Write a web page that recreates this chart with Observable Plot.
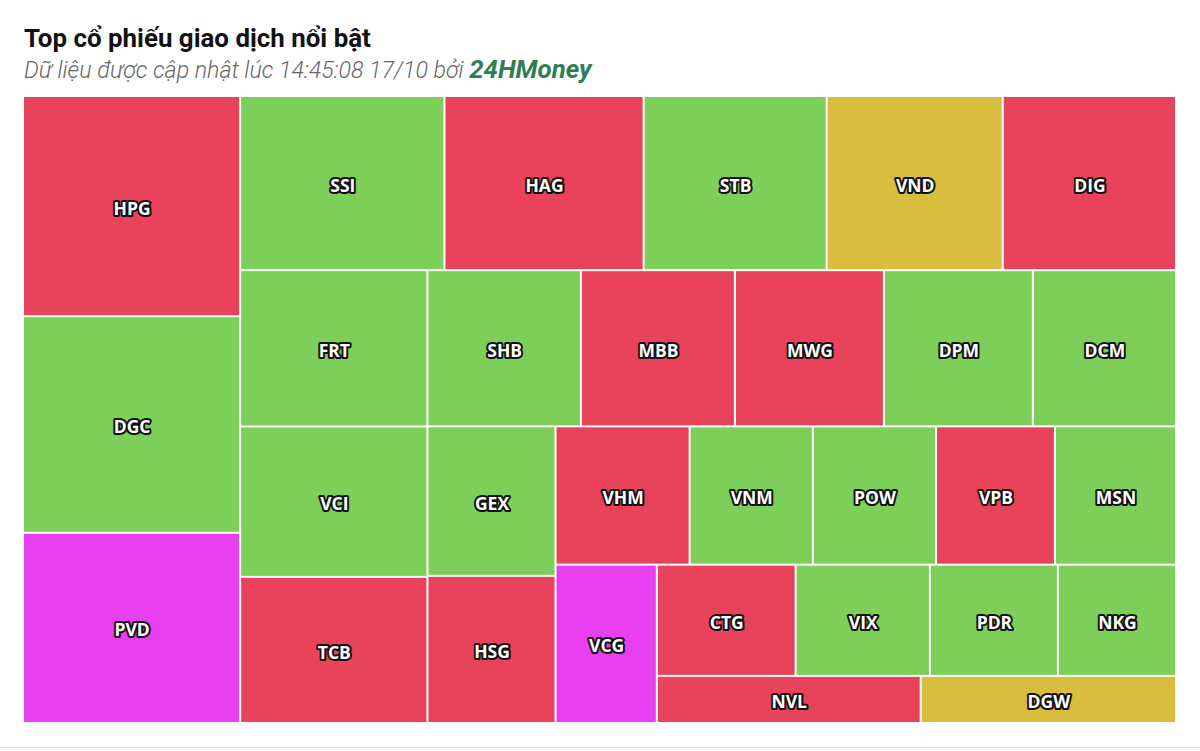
<!DOCTYPE html>
<html><head><meta charset="utf-8">
<script src="https://cdn.jsdelivr.net/npm/d3@7"></script>
<script src="https://cdn.jsdelivr.net/npm/@observablehq/plot@0.6"></script>
<style>
html,body{margin:0;padding:0;background:#fff}
body{width:1200px;height:751px;overflow:hidden;position:relative;font-family:Roboto,sans-serif}
#title{position:absolute;left:24px;top:22px;font-size:25.9px;line-height:32px;font-weight:700;color:#111;white-space:nowrap}
#sub{position:absolute;left:24px;top:54px;font-size:23.2px;line-height:30px;font-style:italic;font-weight:300;color:#666;white-space:nowrap}
#sub b{color:#2f7d57;font-size:25.8px;font-weight:700}
#chart{position:absolute;left:0;top:90px}
#rule{position:absolute;left:0;right:0;top:747px;height:1px;background:#e2e2e2}
</style>
</head><body>
<div id="title">Top cổ phiếu giao dịch nổi bật</div>
<div id="sub">Dữ liệu được cập nhật lúc 14:45:08 17/10 bởi <b>24HMoney</b></div>
<div id="chart"></div>
<div id="rule"></div>
<script>
// Data (layout order)
const tickers = ["HPG","DGC","PVD","SSI","HAG","STB","VND","DIG","FRT","VCI","TCB","SHB","MBB","MWG","DPM","DCM","GEX","HSG","VHM","VNM","POW","VPB","MSN","VCG","CTG","VIX","PDR","NKG","NVL","DGW"];
const values  = [477,469,412,355,346,318,306,301,292,281,273,239,240,232,232,223,191,188,185,170,170,164,167,160,154,149,142,131,124,120];
const statuses = ["giảm","tăng","trần","tăng","giảm","tăng","tham chiếu","giảm","tăng","tăng","giảm","tăng","giảm","giảm","tăng","tăng","tăng","giảm","giảm","tăng","tăng","giảm","tăng","trần","giảm","tăng","tăng","tăng","giảm","tham chiếu"];
const statusDomain = ["tăng","giảm","tham chiếu","trần"];
const statusColors = ["#7ecf5a","#e8435a","#d9bd3e","#e840f0"];

// Alternating-direction squarified tiling
function altSquarify(parent, x0, y0, x1, y1) {
  const nodes = parent.children, n = nodes.length;
  let value = parent.value, vertical = true, i = 0;
  while (i < n) {
    const dx = x1 - x0, dy = y1 - y0;
    const scale = value > 0 ? (dx * dy) / value : 0;
    const len = vertical ? dy : dx;
    let sum = 0, worst = Infinity, j = i;
    while (j < n) {
      const s = sum + nodes[j].value * scale;
      const thick = s / len;
      let w = 0;
      for (let k = i; k <= j; k++) {
        const l = nodes[k].value * scale / thick;
        const r = Math.max(l / thick, thick / l);
        if (r > w) w = r;
      }
      if (w > worst) break;
      worst = w; sum = s; j++;
    }
    const thick = sum / len;
    let p = vertical ? y0 : x0;
    for (let k = i; k < j; k++) {
      const l = nodes[k].value * scale / thick;
      const nd = nodes[k];
      if (vertical) { nd.x0 = x0; nd.x1 = x0 + thick; nd.y0 = p; nd.y1 = p + l; }
      else { nd.y0 = y0; nd.y1 = y0 + thick; nd.x0 = p; nd.x1 = p + l; }
      p += l;
    }
    if (vertical) x0 += thick; else y0 += thick;
    value -= sum / scale;
    i = j; vertical = !vertical;
  }
}

const W = 1151, H = 625;
const root = d3.hierarchy({children: tickers.map((t, i) => ({name: t, value: values[i], status: statuses[i]}))})
  .sum(d => d.value || 0);
d3.treemap().size([W, H]).paddingInner(2).tile(altSquarify)(root);
const leaves = root.leaves().map(d => ({...d.data, x0: d.x0, x1: d.x1, y0: d.y0, y1: d.y1}));

const chart = Plot.plot({
  width: 1200, height: 640,
  marginLeft: 24, marginRight: 25, marginTop: 7, marginBottom: 8,
  x: {domain: [0, W], range: [24, 1175], axis: null},
  y: {domain: [0, H], range: [7, 632], axis: null},
  color: {domain: statusDomain, range: statusColors},
  style: {background: "transparent"},
  marks: [
    Plot.rect(leaves, {x1: "x0", x2: "x1", y1: "y0", y2: "y1", fill: "status"}),
    Plot.text(leaves, {
      x: d => (d.x0 + d.x1) / 2, y: d => (d.y0 + d.y1) / 2, text: "name", dy: 2.5,
      fill: "white", stroke: "#111", strokeWidth: 4, strokeLinejoin: "round", paintOrder: "stroke",
      fontSize: 17.5, fontWeight: 700, fontFamily: "Open Sans"
    })
  ]
});
document.getElementById("chart").appendChild(chart);
</script>
</body></html>
